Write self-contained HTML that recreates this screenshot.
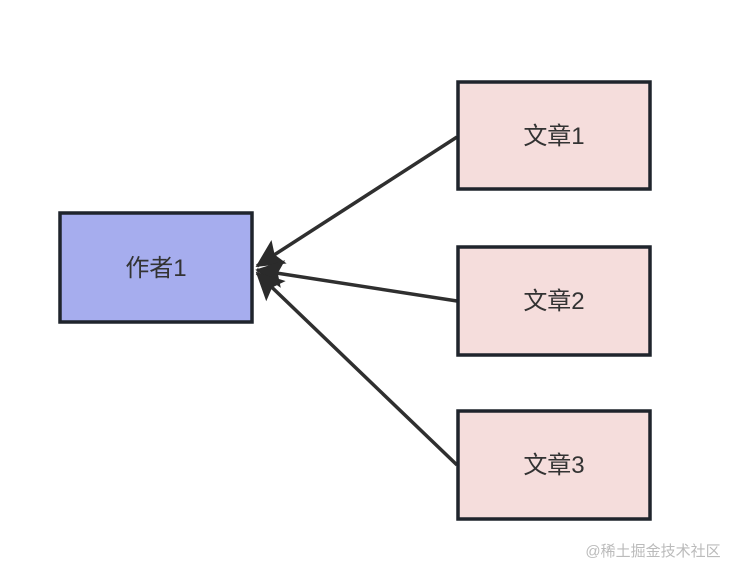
<!DOCTYPE html>
<html><head><meta charset="utf-8"><style>
html,body{margin:0;padding:0;background:#fff;width:740px;height:576px;overflow:hidden}
</style></head><body>
<svg width="740" height="576" xmlns="http://www.w3.org/2000/svg" style="display:block">
<defs>
<marker id="a" markerWidth="8" markerHeight="8" refX="7.5" refY="4" orient="auto" markerUnits="strokeWidth">
<path d="M0,0 L8,4 L0,8 L1.5,4 Z" fill="#2b2b2b"/>
</marker>
</defs>
<g stroke="#2f2f2f" stroke-width="3.5" fill="none">
<line x1="457" y1="137" x2="257" y2="266" marker-end="url(#a)"/>
<line x1="457" y1="301" x2="257" y2="270" marker-end="url(#a)"/>
<line x1="457" y1="465" x2="257" y2="273" marker-end="url(#a)"/>
</g>
<g stroke="#1f242c" stroke-width="3.5">
<rect x="60" y="213" width="192" height="109" fill="#a6adee"/>
<rect x="458" y="82" width="192" height="107" fill="#f5dddc"/>
<rect x="458" y="247" width="192" height="108" fill="#f5dddc"/>
<rect x="458" y="411" width="192" height="108" fill="#f5dddc"/>
</g>
<g font-family="Liberation Sans, Noto Sans CJK SC, sans-serif" font-size="24" fill="#333" text-anchor="middle">
<text x="156" y="276">作者1</text>
<text x="554" y="144">文章1</text>
<text x="554" y="309">文章2</text>
<text x="554" y="473">文章3</text>
</g>
<text x="653" y="556" font-family="Liberation Sans, Noto Sans CJK SC, sans-serif" font-size="15" fill="#bbb" text-anchor="middle">@稀土掘金技术社区</text>
</svg>
</body></html>
